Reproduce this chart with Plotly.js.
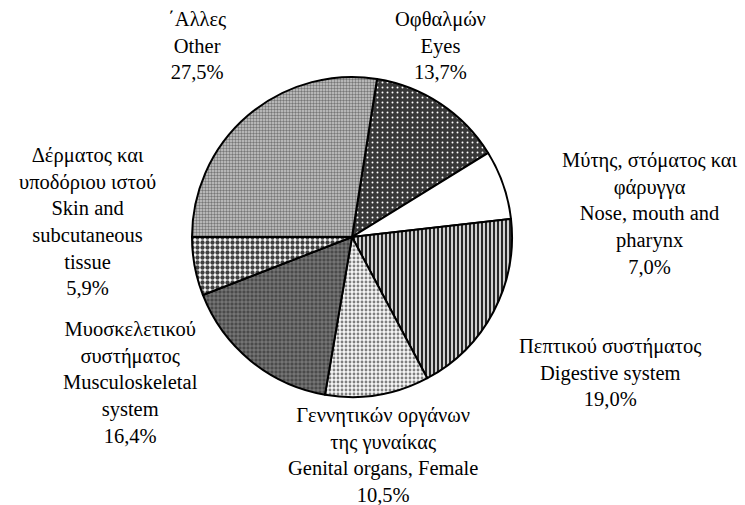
<!DOCTYPE html>
<html>
<head>
<meta charset="utf-8">
<script src="https://cdn.plot.ly/plotly-3.0.1.min.js"></script>
<style>html,body{margin:0;padding:0;background:#fff;}#chart{width:745px;height:505px;}</style>
</head>
<body>
<div id="chart"></div>
<script>
// Data (clockwise from the top)
const greekLabels = ['Οφθαλμών', 'Μύτης, στόματος και<br>φάρυγγα', 'Πεπτικού συστήματος', 'Γεννητικών οργάνων<br>της γυναίκας', 'Μυοσκελετικού<br>συστήματος', 'Δέρματος και<br>υποδόριου ιστού', '΄Αλλες'];
const englishLabels = ['Eyes', 'Nose, mouth and<br>pharynx', 'Digestive system', 'Genital organs, Female', 'Musculoskeletal<br>system', 'Skin and<br>subcutaneous<br>tissue', 'Other'];
const values = [13.7, 7.0, 19.0, 10.5, 16.4, 5.9, 27.5];

// Styles
const W = 745, H = 505;
const cx = 352, cy = 237, R = 160;
const FONT = 'Liberation Serif';
const patterns = [
  {shape: '.', bgcolor: '#383838', fgcolor: '#ffffff', size: 5, solidity: 0.12},
  {shape: '', bgcolor: '#ffffff', fgcolor: '#ffffff', size: 4, solidity: 0.1},
  {shape: '|', bgcolor: '#d0d0d0', fgcolor: '#141414', size: 4, solidity: 0.45},
  {shape: '.', bgcolor: '#f6f6f6', fgcolor: '#808080', size: 4, solidity: 0.4},
  {shape: '+', bgcolor: '#4a4a4a', fgcolor: '#b0b0b0', size: 4, solidity: 0.22},
  {shape: '.', bgcolor: '#ffffff', fgcolor: '#404040', size: 5, solidity: 0.6},
  {shape: '.', bgcolor: '#cccccc', fgcolor: '#777777', size: 3, solidity: 0.5}
];
const colors = ['#383838', '#ffffff', '#909090', '#e0e0e0', '#5a5a5a', '#909090', '#a8a8a8'];
// label block centres in pixels
const labelPos = [[440, 46], [650, 214], [610, 372], [383, 455], [130, 382], [87, 222], [197, 46]];

const fmt = v => v.toFixed(1).replace('.', ',') + '%';

const trace = {
  type: 'pie',
  values: values,
  labels: englishLabels,
  sort: false,
  direction: 'clockwise',
  rotation: 9,
  textinfo: 'none',
  hoverinfo: 'none',
  showlegend: false,
  domain: {x: [(cx - R) / W, (cx + R) / W], y: [(H - cy - R) / H, (H - cy + R) / H]},
  marker: {
    colors: colors,
    line: {color: '#000000', width: 2},
    pattern: {
      shape: patterns.map(p => p.shape),
      bgcolor: patterns.map(p => p.bgcolor),
      fgcolor: patterns.map(p => p.fgcolor),
      size: patterns.map(p => p.size),
      solidity: patterns.map(p => p.solidity),
      fillmode: 'replace'
    }
  }
};

const annotations = values.map((v, i) => ({
  xref: 'paper', yref: 'paper',
  x: labelPos[i][0] / W, y: 1 - labelPos[i][1] / H,
  xanchor: 'center', yanchor: 'middle',
  text: greekLabels[i] + '<br>' + englishLabels[i] + '<br>' + fmt(v),
  showarrow: false,
  align: 'center',
  font: {family: FONT, size: 20.5, color: '#000'}
}));

const layout = {
  width: W, height: H,
  margin: {l: 0, r: 0, t: 0, b: 0},
  font: {family: FONT, size: 20, color: '#000'},
  paper_bgcolor: '#ffffff',
  plot_bgcolor: '#ffffff',
  annotations: annotations
};

Plotly.newPlot('chart', [trace], layout, {displayModeBar: false, staticPlot: true});
</script>
</body>
</html>
